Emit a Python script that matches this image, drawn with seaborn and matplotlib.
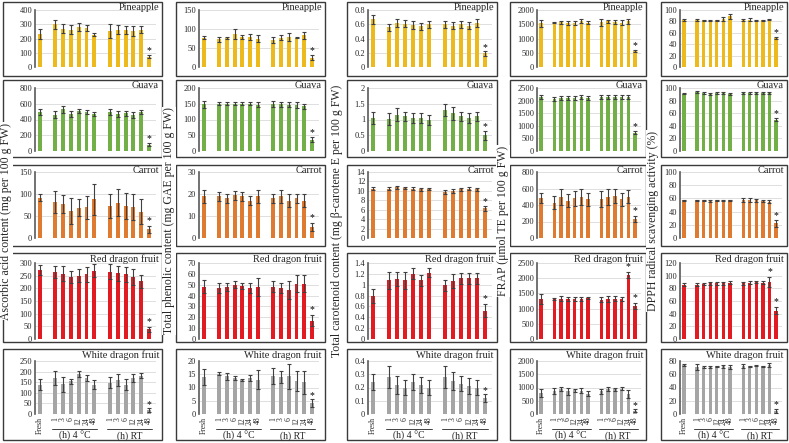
import pandas as pd
import matplotlib.pyplot as plt
import seaborn as sns
from matplotlib.patches import Rectangle

sns.set_theme(style="white")
plt.rcParams['font.family'] = ['Liberation Serif', 'DejaVu Serif']

# Категорії
fruits = ['Pineapple', 'Guava', 'Carrot', 'Red dragon fruit', 'White dragon fruit']
fruit_colors = ['#EDBA1E', '#72AF46', '#DE7B31', '#E21B22', '#A5A5A5']
time_labels = ['Fresh', '1', '3', '6', '12', '24', '48', '1', '3', '6', '12', '24', '48']
time_keys = ['F', 'C1', 'C3', 'C6', 'C12', 'C24', 'C48', 'R1', 'R3', 'R6', 'R12', 'R24', 'R48']
slot_order = ['F', 'g1', 'C1', 'C3', 'C6', 'C12', 'C24', 'C48', 'g2',
              'R1', 'R3', 'R6', 'R12', 'R24', 'R48']

# Аскорбінова кислота
asc_pine = [235, 299, 270, 263, 282, 275, 228, 254, 263, 259, 254, 263, 72]
asc_pine_sd = [35, 33, 30, 30, 30, 20, 10, 50, 30, 30, 35, 25, 12]
asc_guava = [492, 462, 530, 470, 509, 496, 470, 492, 470, 479, 458, 500, 81]
asc_guava_sd = [35, 40, 45, 35, 25, 25, 30, 35, 40, 35, 35, 25, 20]
asc_carrot = [92, 81, 77, 62, 69, 70, 88, 73, 80, 73, 70, 60, 20]
asc_carrot_sd = [9, 25, 20, 30, 20, 26, 35, 27, 31, 30, 29, 29, 8]
asc_red = [272, 265, 258, 245, 250, 255, 270, 265, 260, 255, 245, 228, 38]
asc_red_sd = [20, 25, 30, 25, 25, 30, 25, 30, 30, 30, 30, 25, 10]
asc_white = [139, 170, 141, 155, 190, 170, 139, 148, 162, 139, 170, 180, 19]
asc_white_sd = [25, 33, 35, 12, 15, 15, 20, 27, 28, 25, 20, 12, 10]

# Фенольні сполуки
phe_pine = [77, 73, 77, 86, 79, 78, 75, 72, 77, 79, 77, 84, 25]
phe_pine_sd = [4, 7, 2, 13, 4, 8, 10, 8, 7, 10, 1, 9, 7]
phe_guava = [148, 150, 150, 150, 150, 150, 147, 150, 148, 147, 146, 142, 35]
phe_guava_sd = [10, 5, 5, 5, 5, 5, 8, 10, 8, 8, 8, 8, 8]
phe_carrot = [19, 19, 18, 19.5, 19, 17, 19, 18, 19, 17, 18, 17, 5]
phe_carrot_sd = [3, 2, 2, 2, 2, 2, 3, 2, 3, 3, 2, 3, 2]
phe_red = [48, 47, 48, 50, 49, 47, 48, 48, 47, 45, 51, 51, 17]
phe_red_sd = [6, 5, 4, 3, 3, 5, 8, 5, 5, 8, 8, 8, 5]
phe_white = [14, 15.2, 14.2, 13.7, 12.8, 13.7, 13, 14.2, 14, 14.2, 12.5, 12, 4]
phe_white_sd = [3, 0.5, 1.2, 0.8, 0.5, 1.2, 3.5, 3, 2.2, 4.8, 3.7, 4.3, 1.5]

# Каротиноїди
car_pine = [0.67, 0.56, 0.62, 0.61, 0.59, 0.57, 0.60, 0.60, 0.58, 0.60, 0.58, 0.62, 0.19]
car_pine_sd = [0.06, 0.05, 0.06, 0.05, 0.05, 0.05, 0.05, 0.05, 0.05, 0.05, 0.05, 0.06, 0.03]
car_guava = [1.05, 1.02, 1.15, 1.1, 1.05, 1.05, 0.98, 1.3, 1.2, 1.1, 1.05, 1.1, 0.5]
car_guava_sd = [0.2, 0.2, 0.2, 0.15, 0.15, 0.15, 0.15, 0.2, 0.2, 0.15, 0.15, 0.15, 0.15]
car_carrot = [10.5, 10.5, 10.8, 10.6, 10.5, 10.3, 10.4, 9.8, 10.0, 10.3, 10.5, 10.3, 6.3]
car_carrot_sd = [0.3, 0.3, 0.3, 0.3, 0.3, 0.3, 0.3, 0.4, 0.4, 0.3, 0.3, 0.3, 0.5]
car_red = [0.80, 1.08, 1.11, 1.08, 1.2, 1.08, 1.22, 0.99, 1.07, 1.12, 1.12, 1.12, 0.52]
car_red_sd = [0.13, 0.15, 0.13, 0.15, 0.1, 0.1, 0.08, 0.1, 0.13, 0.1, 0.1, 0.1, 0.12]
car_white = [0.24, 0.28, 0.22, 0.2, 0.24, 0.22, 0.2, 0.28, 0.25, 0.23, 0.21, 0.2, 0.12]
car_white_sd = [0.06, 0.08, 0.07, 0.06, 0.06, 0.06, 0.06, 0.08, 0.07, 0.06, 0.06, 0.06, 0.03]

# FRAP
frap_pine = [1530, 1560, 1570, 1540, 1550, 1620, 1560, 1570, 1600, 1580, 1560, 1600, 560]
frap_pine_sd = [120, 30, 60, 80, 60, 70, 50, 120, 60, 80, 80, 100, 50]
frap_guava = [2150, 2080, 2120, 2120, 2120, 2150, 2120, 2150, 2150, 2150, 2150, 2160, 720]
frap_guava_sd = [80, 80, 80, 80, 80, 80, 80, 80, 80, 80, 80, 80, 60]
frap_carrot = [480, 430, 500, 450, 480, 500, 470, 470, 500, 510, 470, 500, 230]
frap_carrot_sd = [60, 80, 100, 80, 90, 100, 80, 100, 100, 90, 80, 80, 40]
frap_red = [1316, 1316, 1330, 1316, 1316, 1320, 1350, 1294, 1316, 1320, 1316, 2100, 1100]
frap_red_sd = [150, 40, 80, 60, 60, 60, 40, 90, 110, 80, 80, 100, 100]
frap_white = [800, 870, 950, 850, 900, 880, 760, 860, 930, 940, 960, 760, 120]
frap_white_sd = [150, 100, 80, 120, 60, 100, 90, 100, 80, 60, 60, 150, 60]

# DPPH
dpph_pine = [82, 82, 82, 81, 82, 84, 89, 83, 83, 82, 82, 83, 51]
dpph_pine_sd = [1.5, 1.5, 1, 1, 1, 3, 4, 1.5, 3, 1, 1, 1, 2]
dpph_guava = [91, 93, 92, 91, 92, 92, 91, 92, 92, 92, 92, 92, 50]
dpph_guava_sd = [1, 1.5, 1.5, 1.5, 1.5, 1.5, 1.5, 1.5, 1.5, 1.5, 1.5, 1.5, 2]
dpph_carrot = [57, 57, 57, 56, 57, 57, 57, 58, 58, 57, 56, 55, 22]
dpph_carrot_sd = [1, 1, 1, 1, 1, 1, 1, 3, 3, 2, 2, 2, 5]
dpph_red = [86, 86, 87, 88, 88, 88, 89, 88, 89, 90, 89, 90, 45]
dpph_red_sd = [2, 2, 2, 2, 2, 2, 2, 2, 2, 2, 2, 8, 5]
dpph_white = [74, 71, 71, 71, 72, 72, 71, 72, 72, 73, 72, 74, 5]
dpph_white_sd = [2, 4, 1, 1, 1, 2, 3, 3, 1, 1, 1, 3, 3]

ylabels = ['Ascorbic acid content (mg per 100 g FW)',
           'Total phenolic content (mg GAE per 100 g FW)',
           'Total carotenoid content (mg β-carotene E per 100 g FW)',
           'FRAP (μmol TE per 100 g FW)',
           'DPPH radical scavenging activity (%)']

panels = [
    [(asc_pine, asc_pine_sd), (asc_guava, asc_guava_sd), (asc_carrot, asc_carrot_sd),
     (asc_red, asc_red_sd), (asc_white, asc_white_sd)],
    [(phe_pine, phe_pine_sd), (phe_guava, phe_guava_sd), (phe_carrot, phe_carrot_sd),
     (phe_red, phe_red_sd), (phe_white, phe_white_sd)],
    [(car_pine, car_pine_sd), (car_guava, car_guava_sd), (car_carrot, car_carrot_sd),
     (car_red, car_red_sd), (car_white, car_white_sd)],
    [(frap_pine, frap_pine_sd), (frap_guava, frap_guava_sd), (frap_carrot, frap_carrot_sd),
     (frap_red, frap_red_sd), (frap_white, frap_white_sd)],
    [(dpph_pine, dpph_pine_sd), (dpph_guava, dpph_guava_sd), (dpph_carrot, dpph_carrot_sd),
     (dpph_red, dpph_red_sd), (dpph_white, dpph_white_sd)],
]

# межі осей (max, крок)
scales = [
    [(400, 100), (800, 200), (150, 50), (300, 50), (250, 50)],
    [(150, 50), (200, 50), (30, 10), (70, 10), (20, 5)],
    [(0.8, 0.2), (2, 0.5), (14, 2), (1.4, 0.2), (0.4, 0.1)],
    [(2000, 500), (2500, 500), (800, 200), (2500, 500), (2000, 500)],
    [(100, 20), (100, 20), (100, 20), (120, 20), (80, 20)],
]
star_idx = {(3, 3): [11, 12], (4, 3): [11, 12]}

# розмітка в пікселях
W, H = 789, 443
col_box = [(3, 162), (176, 325), (347, 497), (510, 646), (661, 787)]
col_ax = [(35, 156), (199, 319), (368, 492), (537, 641), (680, 782)]
row_box = [(2, 76), (80, 157), (165, 246), (253, 342), (349, 440)]
row_ax = [(10, 67), (88, 151), (172, 238), (263, 339), (361, 414)]
ylab_x = [6, 169, 337, 503, 653]

fig = plt.figure(figsize=(W / 100, H / 100), dpi=100)


def fx(x):
    return x / W


def fy(y):
    return 1 - y / H


pos = [slot_order.index(k) for k in time_keys]

for c in range(5):
    for r in range(5):
        vals, sds = panels[c][r]
        ymax, step = scales[c][r]
        bx0, bx1 = col_box[c]
        by0, by1 = row_box[r]
        fig.add_artist(Rectangle((fx(bx0), fy(by1)), fx(bx1 - bx0), (by1 - by0) / H,
                                 transform=fig.transFigure, fill=False,
                                 edgecolor='#3a3a3a', linewidth=1.0))
        ax0, ax1 = col_ax[c]
        ay0, ay1 = row_ax[r]
        ax = fig.add_axes([fx(ax0), fy(ay1), fx(ax1 - ax0), (ay1 - ay0) / H])
        df = pd.DataFrame({'time': time_keys, 'value': vals})
        sns.barplot(data=df, x='time', y='value', order=slot_order, color=fruit_colors[r],
                    saturation=1, width=0.5, errorbar=None, linewidth=0, ax=ax)
        ax.errorbar(pos, vals, yerr=sds, fmt='none', ecolor='#404040',
                    elinewidth=0.8, capsize=1.6, capthick=0.8)
        for i in star_idx.get((c, r), [12]):
            ax.text(pos[i], vals[i] + sds[i] + 0.07 * ymax, '*', ha='center', va='center',
                    fontsize=7, color='black')
        ticks = [step * k for k in range(int(round(ymax / step)) + 1)]
        ax.set_ylim(0, ymax)
        ax.set_yticks(ticks)
        ax.set_yticklabels(['{:g}'.format(round(t, 2)) for t in ticks], fontsize=6)
        ax.set_xlim(-0.6, 14.9)
        ax.yaxis.grid(True, color='#D9D9D9', linewidth=0.6)
        ax.set_axisbelow(True)
        for s in ['top', 'right', 'bottom']:
            ax.spines[s].set_visible(False)
        ax.spines['left'].set_color('#5a5a5a')
        ax.spines['left'].set_linewidth(1.2)
        ax.tick_params(axis='y', length=0, pad=2)
        ax.set_xlabel('')
        ax.set_ylabel('')
        ax.patch.set_alpha(0)
        if r == 4:
            ax.set_xticks(pos)
            ax.set_xticklabels(time_labels, rotation=90, fontsize=5.5)
            ax.tick_params(axis='x', length=0, pad=2)
            tr = ax.get_xaxis_transform()
            for a, b, lab in [(1.6, 7.4, '(h) 4 °C'), (8.6, 14.4, '(h) RT')]:
                ax.plot([a, b], [-0.28, -0.28], color='#404040', lw=0.7,
                        transform=tr, clip_on=False)
                ax.text((a + b) / 2, -0.42, lab, transform=tr, ha='center', va='center',
                        fontsize=7)
        else:
            ax.set_xticks([])
        fig.text(fx(bx1 - 3), fy(by0 + 1), fruits[r], ha='right', va='top', fontsize=7.5)
    fig.text(fx(ylab_x[c]), fy(221), ylabels[c], rotation=90, ha='center', va='center',
             fontsize=8.5, zorder=5,
             bbox=dict(facecolor='white', edgecolor='none', pad=0.5))

fig.savefig('out.png', dpi=100)
